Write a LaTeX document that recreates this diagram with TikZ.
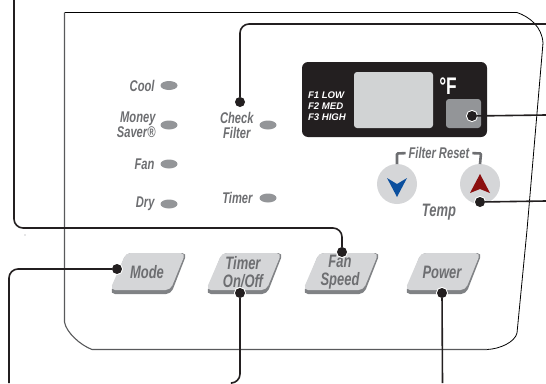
\documentclass[tikz,border=0pt]{standalone}
\usepackage{fontspec}
\usetikzlibrary{positioning,shapes.geometric}
\setmainfont{Liberation Sans}
\newfontfamily\panelfont[FakeStretch=0.72]{Liberation Sans}
\definecolor{leadBlack}{HTML}{231F20}
\definecolor{panelGray}{HTML}{58595B}
\definecolor{ledGray}{HTML}{939598}
\definecolor{textGray}{HTML}{6D6E71}
\definecolor{lcdGray}{HTML}{D1D3D4}
\definecolor{keyGray}{HTML}{D5D6D8}
\definecolor{keyShade}{HTML}{808285}
\definecolor{downBlue}{HTML}{0B4F9E}
\definecolor{upRed}{HTML}{8B0F0F}

\begin{document}
\begin{tikzpicture}[x=1pt, y=-1pt,
    every node/.style={inner sep=0pt, outer sep=0pt},
    lead/.style={draw=leadBlack, line width=1.6pt, rounded corners=9pt},
    leaddot/.style={circle, fill=leadBlack, minimum size=10pt, preaction={draw=white, line width=2pt}},
    led/.style={ellipse, fill=ledGray, minimum width=17pt, minimum height=9pt},
    ledlabel/.style={font=\panelfont\bfseries\itshape\fontsize{15.5}{15}\selectfont, text=textGray, align=right},
    keylabel/.style={font=\panelfont\bfseries\itshape\fontsize{18}{18}\selectfont, text=textGray, align=center},
    roundkey/.style={circle, fill=keyGray, minimum size=40pt}]
  \useasboundingbox (0,0) rectangle (546,383);

  % panel outline
  \draw[line width=0.8pt] (64.5,12.5) -- (517,12.5)
    .. controls (530,17) and (542,27) .. (543,43) -- (527,230) -- (517,333)
    .. controls (515,342) and (500,349) .. (487,349.5);
  \draw[panelGray, line width=1.1pt] (64.5,12.5) -- (64.5,322)
    .. controls (66,332) and (80,345) .. (92,349.5) -- (487,349.5);
  \fill[ledGray] (25,235) circle (0.7pt);

  % display
  \fill[leadBlack, rounded corners=6pt] (302,62) rectangle (487,137);
  \fill[lcdGray, rounded corners=3pt] (354,72) rectangle (433,128);
  \fill[ledGray, rounded corners=3pt] (446,99) rectangle (481,128);
  \node[text=white, align=left, anchor=west, font=\bfseries\itshape\fontsize{9.6}{11}\selectfont] (modes) at (308,106) {F1 LOW\\F2 MED\\F3 HIGH};
  \node[text=white, font=\panelfont\bfseries\fontsize{24}{24}\selectfont] (degF) at (448,86) {°F};

  % indicators
  \foreach \name/\lx/\ly in {cool/169/85.5, saver/169/125, fan/169/164, dry/169/204, check/268/125, timer/268/198}
    \node[led] (led\name) at (\lx,\ly) {};
  \node[ledlabel, left=6pt of ledcool] (lblcool) {Cool};
  \node[ledlabel, left=5pt of ledsaver] (lblsaver) {Money\\Saver®};
  \node[ledlabel, left=6pt of ledfan] (lblfan) {Fan};
  \node[ledlabel, left=6pt of leddry] (lbldry) {Dry};
  \node[ledlabel, align=center, left=6pt of ledcheck] (lblcheck) {Check\\Filter};
  \node[ledlabel, left=7pt of ledtimer] (lbltimer) {Timer};

  % temp keys
  \node[roundkey] (keydown) at (397,184) {};
  \node[roundkey] (keyup) at (480,184) {};
  \fill[downBlue] (387,178) -- (397,184) -- (407,178) -- (397,197) -- cycle;
  \fill[upRed] (470,193) -- (480,189) -- (490,193) -- (480,174) -- cycle;
  \node[ledlabel] (lblreset) at (439,153) {Filter Reset};
  \node[keylabel] (lbltemp) at (439,212) {Temp};
  \draw[textGray, line width=2.6pt, rounded corners=1pt, shorten >=3pt] (keydown.north) -- (397,153.5) -- (lblreset.west);
  \draw[textGray, line width=2.6pt, rounded corners=1pt, shorten >=3pt] (keyup.north) -- (481,153.5) -- (lblreset.east);

  % front keys
  \foreach \dx/\name/\txt in {0/mode/{Mode}, 96/onoff/{Timer\\On/Off}, 193/speed/{Fan\\Speed}, 295/power/{Power}} {
    \fill[keyShade, rounded corners=5pt, xshift=\dx] (126,253) -- (187,253) -- (171,294) -- (110,294) -- cycle;
    \fill[keyGray, rounded corners=5pt, xshift=\dx] (126,253) -- (185.5,253) -- (170.5,290) -- (110,290) -- cycle;
    \node[keylabel] (key\name) at (147+\dx,272) {\txt};
  }

  % leaders
  \node[leaddot] (dotcheck) at (240,102) {};
  \node[leaddot] (dotfilter) at (472,116) {};
  \node[leaddot] (dottemp) at (480,202) {};
  \node[leaddot] (dotspeed) at (342,252) {};
  \node[leaddot] (dotmode) at (117,269) {};
  \node[leaddot] (dotonoff) at (240,293) {};
  \node[leaddot] (dotpower) at (442,293) {};
  \coordinate (endcheck) at (546,24);
  \coordinate (endfilter) at (546,115);
  \coordinate (endtemp) at (546,201);
  \coordinate (endspeed) at (14,0);
  \coordinate (endmode) at (9,383);
  \coordinate (endonoff) at (232,383);
  \coordinate (endpower) at (442.5,383);
  \draw[lead] (dotcheck) -- (240,24) -- (endcheck);
  \draw[lead] (dotfilter) -- (endfilter);
  \draw[lead] (dottemp) -- (endtemp);
  \draw[lead] (dotspeed) -- (342,228) -- (14,228) -- (endspeed);
  \draw[lead] (dotmode) -- (9,269) -- (endmode);
  \draw[lead] (dotonoff) -- (240,383) -- (endonoff);
  \draw[lead] (dotpower) -- (endpower);
\end{tikzpicture}
\end{document}
